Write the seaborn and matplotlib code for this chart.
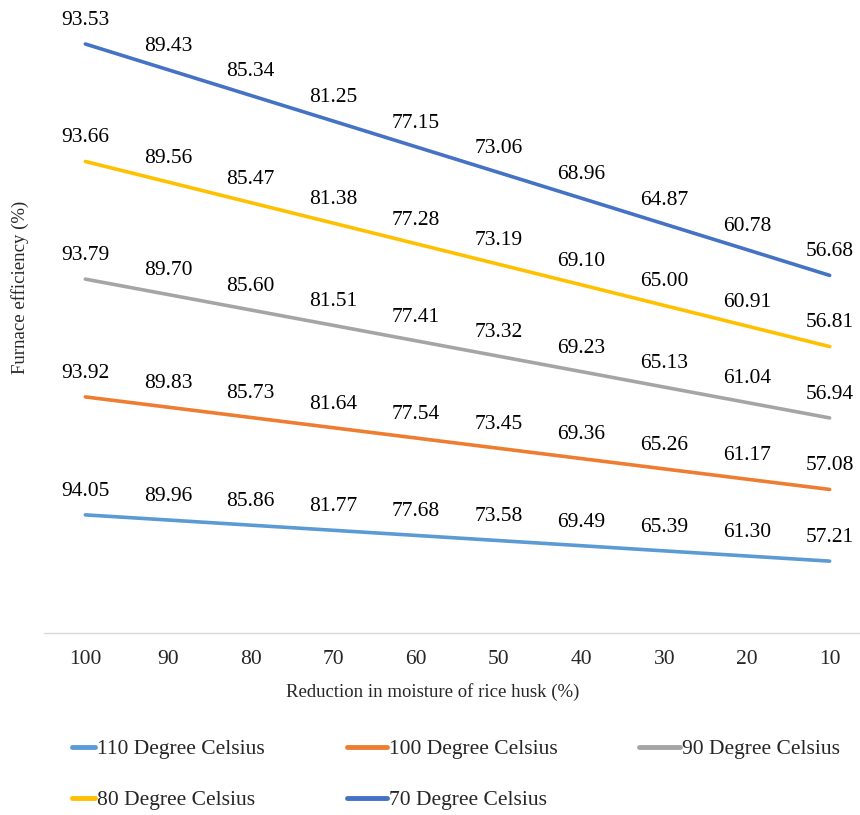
import pandas as pd
import numpy as np
import matplotlib
matplotlib.use("Agg")
import matplotlib.pyplot as plt
import seaborn as sns

# Reduction in moisture of rice husk (%)
moisture = ["100", "90", "80", "70", "60", "50", "40", "30", "20", "10"]

# Furnace efficiency (%) per drying temperature
eff_110 = [94.05, 89.96, 85.86, 81.77, 77.68, 73.58, 69.49, 65.39, 61.30, 57.21]
eff_100 = [93.92, 89.83, 85.73, 81.64, 77.54, 73.45, 69.36, 65.26, 61.17, 57.08]
eff_90 = [93.79, 89.70, 85.60, 81.51, 77.41, 73.32, 69.23, 65.13, 61.04, 56.94]
eff_80 = [93.66, 89.56, 85.47, 81.38, 77.28, 73.19, 69.10, 65.00, 60.91, 56.81]
eff_70 = [93.53, 89.43, 85.34, 81.25, 77.15, 73.06, 68.96, 64.87, 60.78, 56.68]

series = ["110 Degree Celsius", "100 Degree Celsius", "90 Degree Celsius",
          "80 Degree Celsius", "70 Degree Celsius"]
values = [eff_110, eff_100, eff_90, eff_80, eff_70]
colors = ["#5B9BD5", "#ED7D31", "#A5A5A5", "#FFC000", "#4472C4"]

sns.set_style("white")
plt.rcParams['font.family'] = ['Liberation Serif', 'DejaVu Serif']

# stacked line chart (lines drawn at cumulative sums, labels show own values)
rows = []
running = np.zeros(len(moisture))
for name, vals in zip(series, values):
    running = running + np.array(vals)
    for i, m in enumerate(moisture):
        rows.append({"moisture": m, "pos": i, "series": name,
                     "value": vals[i], "stacked": running[i]})
df = pd.DataFrame(rows)

fig = plt.figure(figsize=(8.6, 8.15), dpi=100)
ax = fig.add_axes([44 / 860, (815 - 633) / 815, 827 / 860, 628 / 815])

sns.lineplot(data=df, x="pos", y="stacked", hue="series", hue_order=series,
             palette=colors, linewidth=2.6, sort=False, legend=False, ax=ax)

for _, r in df.iterrows():
    ax.annotate(f"{r['value']:.2f}", (r["pos"], r["stacked"]),
                xytext=(0, 17), textcoords="offset points",
                ha="center", va="center", fontsize=15.5, color="black")

ax.set_xlim(-0.5, len(moisture) - 0.5)
ax.set_ylim(0, 500)
ax.set_xticks(range(len(moisture)))
ax.set_xticklabels(moisture, fontsize=15.5)
ax.set_xticks(np.arange(0.5, len(moisture) - 0.5, 1), minor=True)
ax.tick_params(axis="x", which="major", length=0, pad=12)
ax.tick_params(axis="x", which="minor", length=5, color="#d9d9d9", width=1)
ax.set_yticks([])
ax.set_xlabel("")
ax.set_ylabel("")
for s in ["left", "right", "top"]:
    ax.spines[s].set_visible(False)
ax.spines["bottom"].set_color("#d9d9d9")
ax.spines["bottom"].set_linewidth(1)

fig.text(433 / 860, 1 - 692 / 815, "Reduction in moisture of rice husk (%)",
         ha="center", va="center", fontsize=13.5)
fig.text(20 / 860, 1 - 287 / 815, "Furnace efficiency (%)",
         ha="center", va="center", rotation=90, fontsize=13.5)

# legend in three columns: rows read 110,100,90 / 80,70
handles = [plt.Line2D([], [], color=c, lw=3.5) for c in colors]
columns = [([0, 3], 72, 1.05), ([1, 4], 347, 1.85), ([2], 639, 1.9)]
for idx, x0, hl in columns:
    fig.legend([handles[i] for i in idx], [series[i] for i in idx],
               loc="upper left", bbox_to_anchor=(x0 / 860, 1 - 739 / 815),
               frameon=False, fontsize=15.5, handlelength=hl, handletextpad=0.1,
               labelspacing=1.45, borderpad=0, borderaxespad=0)

fig.savefig("out.png", dpi=100)
